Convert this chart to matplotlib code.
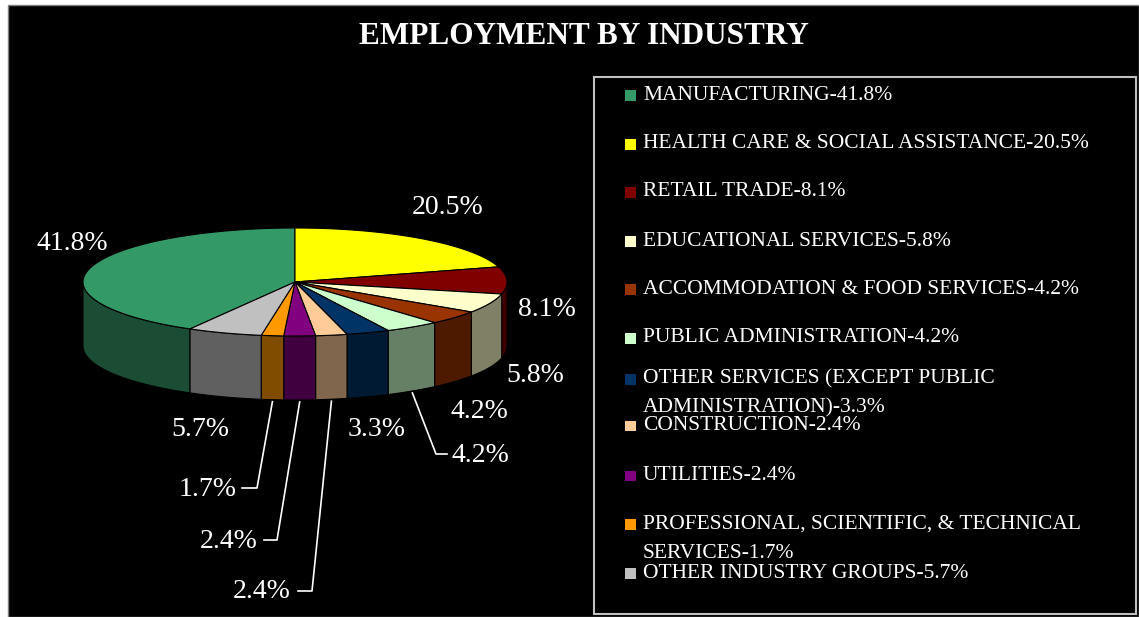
import textwrap
import numpy as np
import matplotlib.pyplot as plt
from matplotlib.patches import Polygon, Rectangle
from matplotlib.colors import to_rgb

# data (legend order)
industries = ['MANUFACTURING', 'HEALTH CARE & SOCIAL ASSISTANCE', 'RETAIL TRADE',
              'EDUCATIONAL SERVICES', 'ACCOMMODATION & FOOD SERVICES',
              'PUBLIC ADMINISTRATION', 'OTHER SERVICES (EXCEPT PUBLIC ADMINISTRATION)',
              'CONSTRUCTION', 'UTILITIES',
              'PROFESSIONAL, SCIENTIFIC, & TECHNICAL SERVICES', 'OTHER INDUSTRY GROUPS']
shares = [41.8, 20.5, 8.1, 5.8, 4.2, 4.2, 3.3, 2.4, 2.4, 1.7, 5.7]
colors = ['#339966', '#ffff00', '#800000', '#ffffcc', '#993300', '#ccffcc',
          '#003366', '#ffcc99', '#800080', '#ff9900', '#c0c0c0']

# layout (pixel coordinates of the 1139x617 canvas)
W, H = 1139, 617
cx, cy, rx, ry, depth = 295, 282, 212, 54, 64
# label anchor: (x, y, ha); leader: elbow point and end of horizontal tick, or None
label_pos = [(72, 243, 'center'), (448, 208, 'center'), (547, 309, 'center'),
             (535, 375, 'center'), (479, 411, 'center'), (451, 456, 'left'),
             (377, 430, 'center'), (291, 592, 'right'), (258, 541, 'right'),
             (237, 489, 'right'), (200, 430, 'center')]
leaders = [None, None, None, None, None, ((436, 454), (447, 454)), None,
           ((312, 591), (298, 591)), ((277, 540), (264, 540)),
           ((257, 488), (242, 488)), None]
legend_y = [95, 144, 192, 241, 289, 338, 379, 425.5, 475.5, 524, 573]

serif = 'Liberation Serif'


def pt(theta, dy=0.0):
    # theta in degrees, clockwise from 12 o'clock
    t = np.radians(theta)
    return cx + rx * np.sin(t), cy - ry * np.cos(t) + dy


def shade(c, f=0.5):
    r, g, b = to_rgb(c)
    return (r * f, g * f, b * f)


fig = plt.figure(figsize=(W / 100, H / 100), dpi=100)
fig.patch.set_facecolor('white')
ax = fig.add_axes([0, 0, 1, 1])
ax.set_xlim(0, W)
ax.set_ylim(H, 0)
ax.axis('off')

ax.add_patch(Rectangle((8, 5), W - 8, H - 5, facecolor='black', edgecolor='#808080', lw=1))

# slice angles: manufacturing ends at 12 o'clock, the rest follow clockwise
fractions = np.array(shares) / np.sum(shares)
starts = np.zeros(len(shares))
ends = np.zeros(len(shares))
a = -fractions[0] * 360
for i, f in enumerate(fractions):
    starts[i] = a
    ends[i] = a + f * 360
    a = ends[i]

# side walls (front half only: 90..270 degrees)
for i, c in enumerate(colors):
    for lo, hi in [(starts[i], ends[i]), (starts[i] + 360, ends[i] + 360)]:
        a0, a1 = max(lo, 90), min(hi, 270)
        if a1 <= a0:
            continue
        th = np.linspace(a0, a1, 60)
        top = np.column_stack(pt(th))
        bot = np.column_stack(pt(th, depth))[::-1]
        ax.add_patch(Polygon(np.vstack([top, bot]), closed=True, facecolor=shade(c),
                             edgecolor='black', lw=0.8))

# top faces
for i, c in enumerate(colors):
    th = np.linspace(starts[i], ends[i], 120)
    arc = np.column_stack(pt(th))
    ax.add_patch(Polygon(np.vstack([[cx, cy], arc]), closed=True, facecolor=c,
                         edgecolor='black', lw=0.8))

# percentage labels
for i, s in enumerate(shares):
    x, y, ha = label_pos[i]
    ax.text(x, y, f'{s}%', color='white', fontsize=20, family=serif, ha=ha, va='center')
    if leaders[i] is not None:
        mid = (starts[i] + ends[i]) / 2
        x0, y0 = pt(mid, depth + 2)
        (ex, ey), (tx, ty) = leaders[i]
        ax.plot([x0, ex, tx], [y0, ey, ty], color='white', lw=1.2)

# title
ax.text(584, 37, 'EMPLOYMENT BY INDUSTRY', color='white', fontsize=22.5, fontweight='bold',
        family=serif, ha='center', va='center')

# legend
ax.add_patch(Rectangle((594, 77), 542, 537, facecolor='none', edgecolor='#c0c0c0', lw=1.5))
for i, name in enumerate(industries):
    y = legend_y[i]
    ax.add_patch(Rectangle((625, y - 5), 10.5, 10.5, facecolor=colors[i], edgecolor='none'))
    lines = textwrap.wrap(f'{name}-{shares[i]}%', 40)
    for k, line in enumerate(lines):
        ax.text(643, y + k * 29, line, color='white', fontsize=15.5, family=serif,
                ha='left', va='center')

fig.savefig('out.png', dpi=100, facecolor=fig.get_facecolor())
